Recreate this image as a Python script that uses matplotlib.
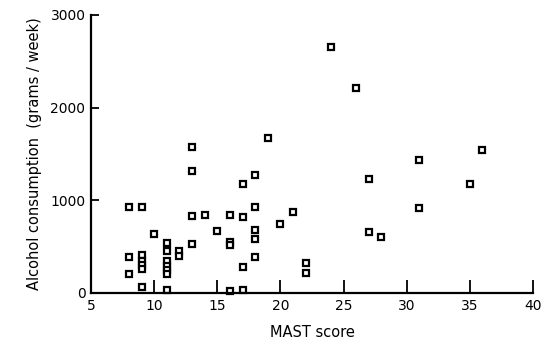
import matplotlib
matplotlib.use("Agg")
import matplotlib.pyplot as plt

# MAST score (x) and alcohol consumption in grams/week (y)
mast_score = [8, 8, 8,
              9, 9, 9, 9, 9, 9,
              10,
              11, 11, 11, 11, 11, 11, 11,
              12, 12,
              13, 13, 13, 13,
              14,
              15,
              16, 16, 16, 16,
              17, 17, 17, 17,
              18, 18, 18, 18, 18,
              19,
              20,
              21,
              22, 22,
              24,
              26,
              27, 27,
              28,
              31, 31,
              35,
              36]
alcohol = [930, 388, 201,
           930, 407, 341, 297, 260, 70,
           634,
           542, 451, 341, 293, 249, 205, 37,
           451, 396,
           1571, 1316, 828, 531,
           846,
           670,
           846, 549, 516, 18,
           1176, 817, 278, 37,
           1273, 927, 678, 579, 388,
           1670,
           746,
           877,
           320, 211,
           2650,
           2210,
           1230, 654,
           604,
           1430, 920,
           1181,
           1545]

x_ticks = [5, 10, 15, 20, 25, 30, 35, 40]
y_ticks = [0, 1000, 2000, 3000]
x_label = "MAST score"
y_label = "Alcohol consumption  (grams / week)"

plt.rcParams['font.family'] = ['DejaVu Sans']

fig = plt.figure(figsize=(5.46, 3.45), dpi=100)
ax = fig.add_axes([91/546, 52/345, 442/546, 278/345])

ax.plot(mast_score, alcohol, linestyle='none', marker='s',
        markersize=4.5, markerfacecolor='white', markeredgecolor='black',
        markeredgewidth=1.6, clip_on=False)

ax.set_xlim(5, 40)
ax.set_ylim(0, 3000)
ax.set_xticks(x_ticks)
ax.set_yticks(y_ticks)
ax.set_xticklabels([str(t) for t in x_ticks])
ax.set_yticklabels([str(t) for t in y_ticks])

for s in ['top', 'right']:
    ax.spines[s].set_visible(False)
for s in ['left', 'bottom']:
    ax.spines[s].set_linewidth(1.6)

ax.tick_params(axis='x', direction='in', length=9.5, width=1.3, pad=4,
               labelsize=10)
ax.tick_params(axis='y', direction='in', length=6, width=1.3, pad=4,
               labelsize=10)

ax.set_xlabel(x_label, fontsize=10.5, labelpad=9)
ax.set_ylabel(y_label, fontsize=10.5, labelpad=6)

fig.savefig("out.png", dpi=100)
